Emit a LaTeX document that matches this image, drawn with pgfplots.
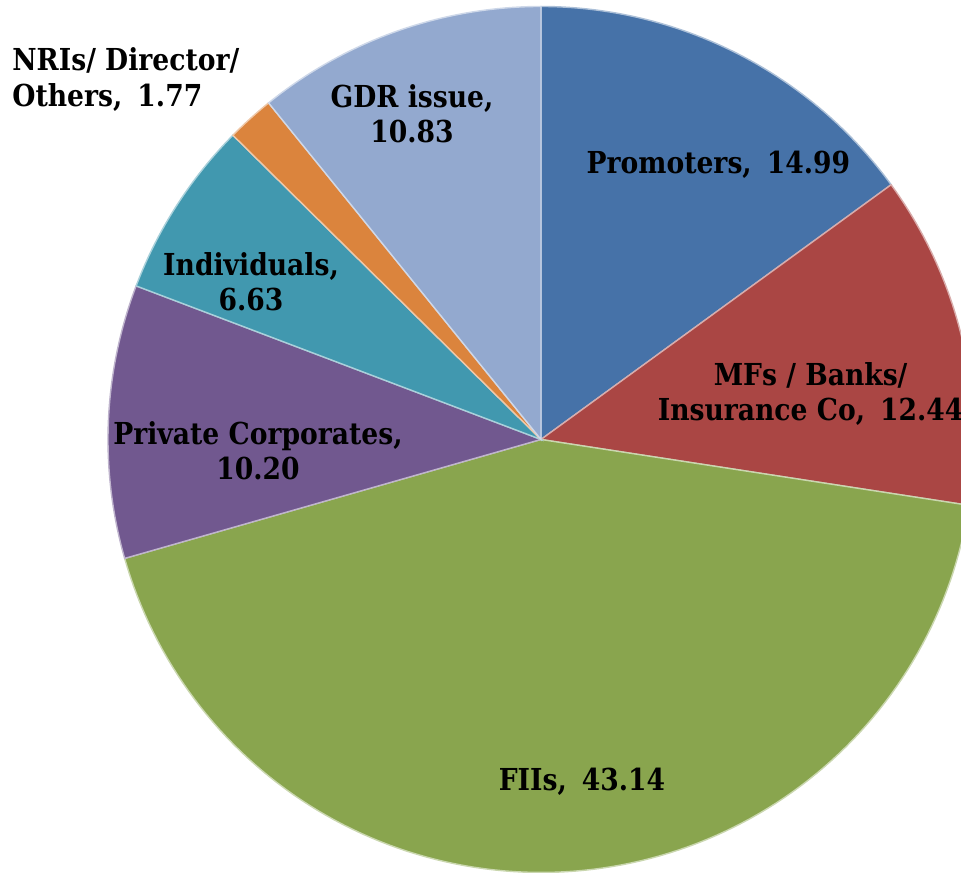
\documentclass[border=0pt]{standalone}
\usepackage{pgfplots}
\pgfplotsset{compat=1.18}
\usepackage{pgfplotstable}
\usepackage{fontspec}
\setmainfont[FakeStretch=0.88]{DejaVu Serif}

\definecolor{cPro}{HTML}{4672A8}
\definecolor{cMF}{HTML}{AA4644}
\definecolor{cFII}{HTML}{89A54E}
\definecolor{cPC}{HTML}{71588F}
\definecolor{cInd}{HTML}{4198AF}
\definecolor{cNRI}{HTML}{DB843D}
\definecolor{cGDR}{HTML}{93A9CF}

% share of holding (%), clockwise from 12 o'clock
\pgfplotstableread[col sep=comma]{
share,col
14.99,cPro
12.44,cMF
43.14,cFII
10.20,cPC
6.63,cInd
1.77,cNRI
10.83,cGDR
}\shares

\begin{document}
\begin{tikzpicture}
\begin{axis}[
    scale only axis,
    width=9.61cm, height=8.73cm,
    xmin=-1.2494, xmax=0.9700,
    ymin=-1.0012, ymax=1.0150,
    hide axis,
]
\gdef\cum{90}
\pgfplotsforeachungrouped \i in {0,...,6}{%
    \pgfplotstablegetelem{\i}{share}\of\shares \let\sv\pgfplotsretval
    \pgfplotstablegetelem{\i}{col}\of\shares \let\scol\pgfplotsretval
    \pgfmathsetmacro\send{\cum-3.6*\sv}%
    \edef\tmp{\noexpand\addplot[fill=\scol, draw=white!55!\scol, line width=0.4pt,
        domain=\send:\cum, samples=120] ({cos(x)},{sin(x)}) -- (axis cs:0,0) -- cycle;}%
    \tmp
    \global\let\cum\send
}
\begin{scope}[every node/.style={font=\fontsize{8.6}{10}\selectfont\bfseries, align=center}]
\node at (axis cs:0.4097,0.6343) {Promoters,\enspace 14.99};
\node at (axis cs:0.6227,0.1040) {MFs / Banks/\\Insurance Co,\enspace 12.44};
\node at (axis cs:0.0947,-0.7910) {FIIs,\enspace 43.14};
\node at (axis cs:-0.6536,-0.0254) {Private Corporates,\\10.20};
\node at (axis cs:-0.6697,0.3637) {Individuals,\\6.63};
\node[anchor=west, align=left] at (axis cs:-1.2494,0.8314) {NRIs/ Director/\\Others,\enspace 1.77};
\node at (axis cs:-0.2979,0.7517) {GDR issue,\\10.83};
\end{scope}
\end{axis}
\pgfresetboundingbox
\path[use as bounding box] (current axis.south west) rectangle (current axis.north east);
\end{tikzpicture}
\end{document}
